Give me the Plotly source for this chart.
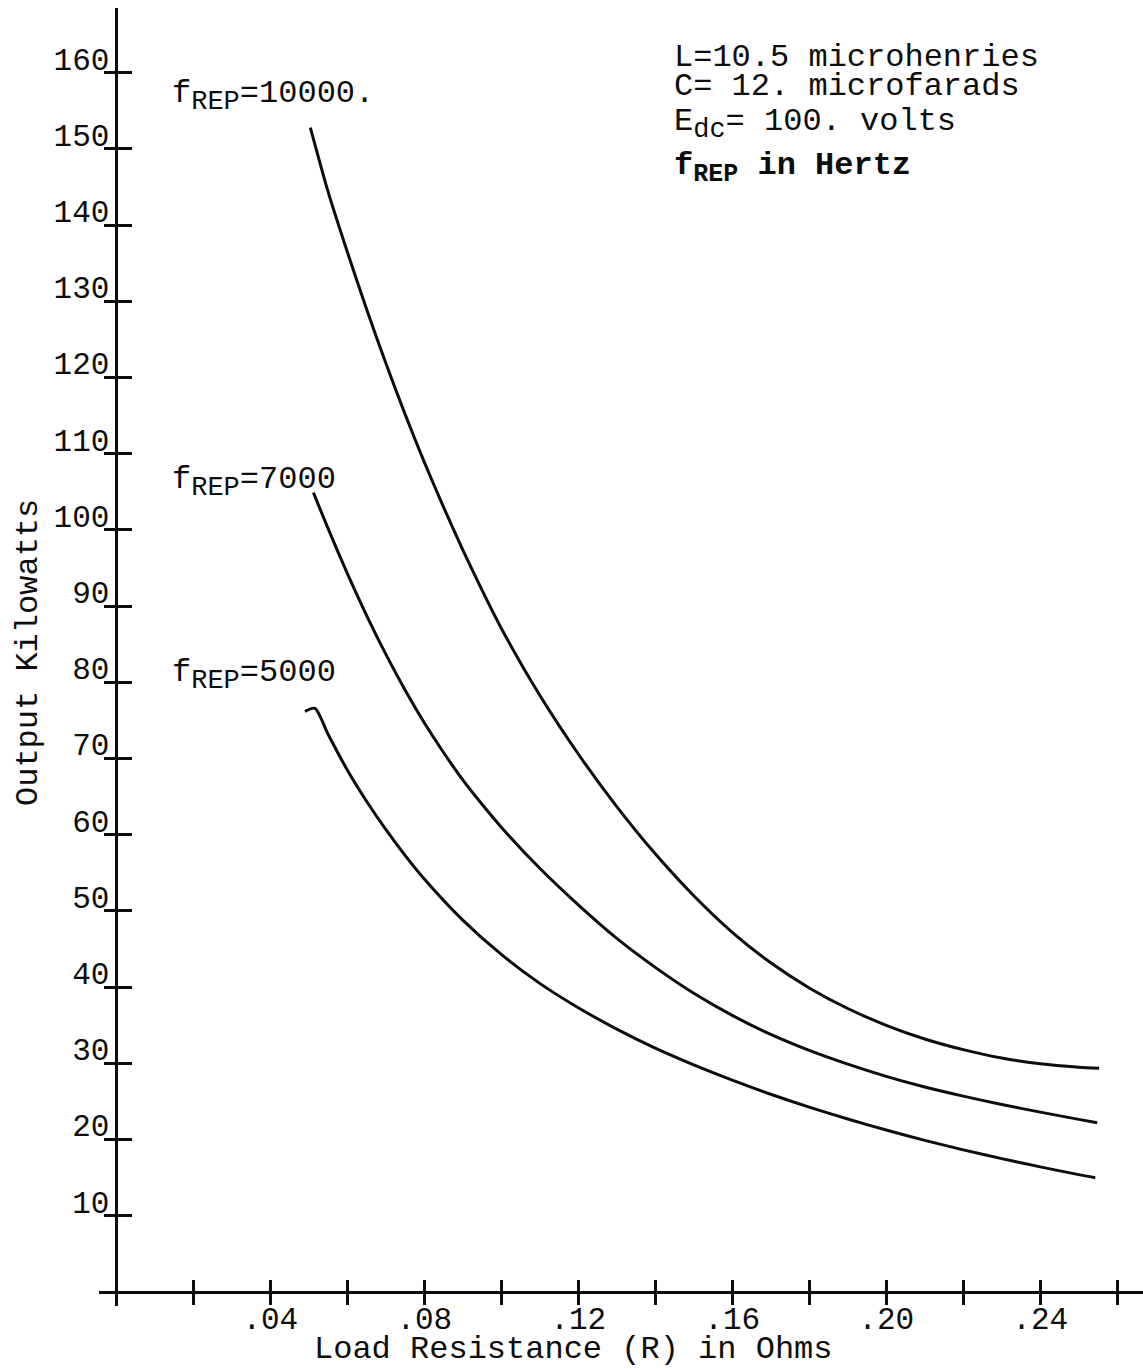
import plotly.graph_objects as go

# ---------------- data ----------------
r_10000 = [0.0504, 0.055, 0.060, 0.065, 0.070, 0.075, 0.080, 0.085, 0.090, 0.095, 0.100,
           0.110, 0.120, 0.130, 0.140, 0.150, 0.160, 0.170, 0.180, 0.190, 0.200,
           0.210, 0.220, 0.230, 0.240, 0.250, 0.2553]
p_10000 = [152.8, 144.4, 136.5, 129.0, 121.9, 115.2, 108.9, 103.0, 97.4, 92.1, 87.1,
           78.3, 70.6, 63.7, 57.5, 52.0, 47.2, 43.2, 39.9, 37.2, 35.0,
           33.2, 31.8, 30.7, 29.95, 29.5, 29.35]

r_7000 = [0.0512, 0.055, 0.060, 0.065, 0.070, 0.075, 0.080, 0.085, 0.090, 0.095, 0.100,
          0.110, 0.120, 0.130, 0.140, 0.150, 0.160, 0.170, 0.180, 0.190, 0.200,
          0.210, 0.220, 0.230, 0.240, 0.250, 0.2548]
p_7000 = [104.9, 100.2, 94.3, 88.8, 83.7, 79.0, 74.7, 70.8, 67.2, 64.0, 61.0,
          55.6, 50.8, 46.4, 42.6, 39.2, 36.3, 33.8, 31.7, 29.9, 28.3,
          26.9, 25.7, 24.6, 23.6, 22.65, 22.2]

r_5000 = [0.0490, 0.0516, 0.055, 0.060, 0.065, 0.070, 0.075, 0.080, 0.090, 0.100,
          0.110, 0.120, 0.130, 0.140, 0.150, 0.160, 0.170, 0.180, 0.190, 0.200,
          0.210, 0.220, 0.230, 0.240, 0.250, 0.2543]
p_5000 = [76.2, 76.6, 73.2, 68.5, 64.4, 60.7, 57.3, 54.2, 48.8, 44.3,
          40.5, 37.3, 34.5, 32.0, 29.8, 27.8, 25.95, 24.25, 22.7, 21.25,
          19.9, 18.65, 17.5, 16.42, 15.4, 15.0]

x_tickvals = [0.02, 0.04, 0.06, 0.08, 0.10, 0.12, 0.14, 0.16, 0.18, 0.20, 0.22, 0.24, 0.26]
x_ticktext = ["", ".04", "", ".08", "", ".12", "", ".16", "", ".20", "", ".24", ""]
y_tickvals = [10, 20, 30, 40, 50, 60, 70, 80, 90, 100, 110, 120, 130, 140, 150, 160]
y_ticktext = [str(v) for v in y_tickvals]

SUB = '<sub><span style="font-size:27px">{}</span></sub>'
curve_labels = ["f" + SUB.format("REP") + "=10000.",
                "f" + SUB.format("REP") + "=7000",
                "f" + SUB.format("REP") + "=5000"]
info_lines = ["L=10.5 microhenries", "C= 12. microfarads",
              "E" + SUB.format("dc") + "= 100. volts",
              "<b>f" + '<sub><span style="font-size:25px">REP</span></sub>' + " in Hertz</b>"]
x_title = "Load Resistance (R) in Ohms"
y_title = "Output Kilowatts"

# ---------------- layout helpers ----------------
W, H = 1143, 1369
ML, MR, MT, MB = 99, 0, 8, 63
PW, PH = W - ML - MR, H - MT - MB
XR = [-0.0045, 0.2667]
YR = [-1.84, 168.5]
INK = "#0d0d0d"
FONT = "Liberation Mono, Courier New, monospace"


def px2x(px):
    return (px - ML) / PW


def py2y(py):
    return (H - MB - py) / PH


x_pos = (0 - YR[0]) / (YR[1] - YR[0])   # paper y where kW = 0
y_pos = (0 - XR[0]) / (XR[1] - XR[0])   # paper x where R = 0

fig = go.Figure()
for r, p in [(r_10000, p_10000), (r_7000, p_7000), (r_5000, p_5000)]:
    fig.add_trace(go.Scatter(x=r, y=p, mode="lines",
                             line=dict(color=INK, width=3, shape="spline", smoothing=0.7),
                             showlegend=False, hoverinfo="skip"))
# dummy trace to realise the overlay axes carrying the inner half of the ticks
fig.add_trace(go.Scatter(x=[None], y=[None], xaxis="x2", yaxis="y2",
                         showlegend=False, hoverinfo="skip"))

tickfont = dict(family=FONT, size=31, color=INK)
fig.update_layout(
    width=W, height=H, autosize=False,
    margin=dict(l=ML, r=MR, t=MT, b=MB, pad=0),
    paper_bgcolor="white", plot_bgcolor="white",
    xaxis=dict(range=XR, showgrid=False, zeroline=False, showline=True,
               linecolor=INK, linewidth=2.5, anchor="free", position=x_pos,
               tickmode="array", tickvals=x_tickvals, ticktext=x_ticktext,
               ticks="outside", ticklen=11, tickwidth=2.5, tickcolor=INK,
               ticklabelstandoff=-13, tickfont=tickfont),
    yaxis=dict(range=YR, showgrid=False, zeroline=False, showline=True,
               linecolor=INK, linewidth=2.5, anchor="free", position=y_pos,
               tickmode="array", tickvals=y_tickvals, ticktext=y_ticktext,
               ticks="outside", ticklen=12, tickwidth=2.5, tickcolor=INK,
               ticklabelposition="outside top", ticklabelshift=9, tickfont=tickfont),
    xaxis2=dict(range=XR, overlaying="x", anchor="free", position=x_pos,
                showgrid=False, zeroline=False, showline=False,
                tickmode="array", tickvals=x_tickvals, showticklabels=False,
                ticks="inside", ticklen=12, tickwidth=2.5, tickcolor=INK),
    yaxis2=dict(range=YR, overlaying="y", anchor="free", position=y_pos,
                showgrid=False, zeroline=False, showline=False,
                tickmode="array", tickvals=y_tickvals, showticklabels=False,
                ticks="inside", ticklen=15, tickwidth=2.5, tickcolor=INK),
)

ann_font = dict(family=FONT, size=32, color=INK)
# axis titles
fig.add_annotation(text=y_title, xref="paper", yref="paper", x=px2x(28), y=py2y(653),
                   textangle=-90, showarrow=False, xanchor="center", yanchor="middle",
                   font=ann_font)
fig.add_annotation(text=x_title, xref="paper", yref="paper", x=px2x(573), y=py2y(1349),
                   showarrow=False, xanchor="center", yanchor="middle", font=ann_font)
# curve labels
for txt, cy in zip(curve_labels, [96, 482, 675]):
    fig.add_annotation(text=txt, xref="paper", yref="paper", x=px2x(170), y=py2y(cy),
                       showarrow=False, xanchor="left", yanchor="middle", font=ann_font)
# parameter block
for txt, cy in zip(info_lines, [57, 87, 124, 168]):
    fig.add_annotation(text=txt, xref="paper", yref="paper", x=px2x(672), y=py2y(cy),
                       showarrow=False, xanchor="left", yanchor="middle", font=ann_font)

fig.write_html("out.html")
